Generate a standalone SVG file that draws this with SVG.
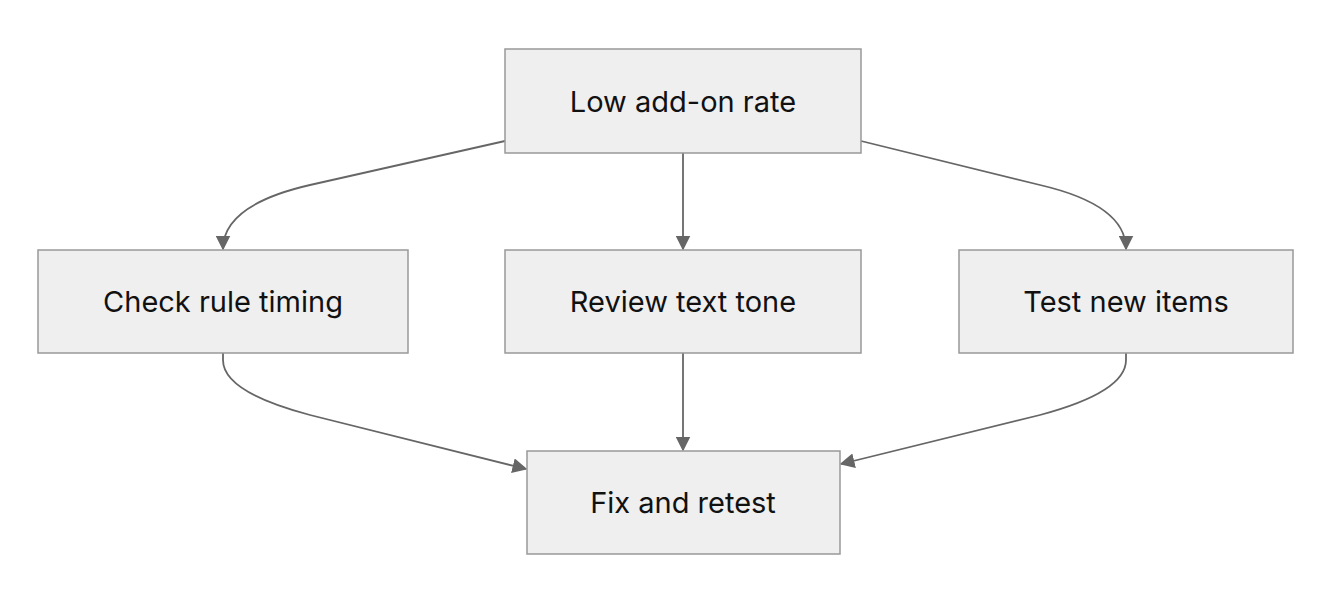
<svg xmlns="http://www.w3.org/2000/svg" width="1332" height="604" viewBox="0 0 1332 604">
<style>
.n rect{fill:#efefef;stroke:#999;stroke-width:1.5}
.n text{font-family:Inter,"Liberation Sans",sans-serif;font-size:29px;fill:#111;text-anchor:middle;dominant-baseline:central}
.e path{fill:none;stroke:#666;stroke-width:1.8;marker-end:url(#a)}
</style>
<defs><marker id="a" viewBox="0 0 10 10" refX="9" refY="5" markerWidth="15" markerHeight="15" markerUnits="userSpaceOnUse" orient="auto"><path d="M0,0L10,5L0,10z" fill="#666"/></marker></defs>
<rect width="1332" height="604" fill="#fff"/>
<g class="e">
<path d="M505,141 L310,185 Q223,205 223,249"/>
<path d="M683,153 L683,249"/>
<path d="M861,141 L1040,185 Q1126,205 1126,249"/>
<path d="M223,353 L223,360 Q223,392 310,415 L526,469"/>
<path d="M683,353 L683,450"/>
<path d="M1126,353 L1126,360 Q1126,392 1040,415 L841,464"/>
</g>
<g id="n1" class="n"><rect x="505" y="49" width="356" height="104"/><text x="683" y="101">Low add-on rate</text></g>
<g id="n2" class="n"><rect x="38" y="250" width="370" height="103"/><text x="223" y="301">Check rule timing</text></g>
<g id="n3" class="n"><rect x="505" y="250" width="356" height="103"/><text x="683" y="301">Review text tone</text></g>
<g id="n4" class="n"><rect x="959" y="250" width="334" height="103"/><text x="1126" y="301">Test new items</text></g>
<g id="n5" class="n"><rect x="527" y="451" width="313" height="103"/><text x="683" y="502">Fix and retest</text></g>
</svg>
